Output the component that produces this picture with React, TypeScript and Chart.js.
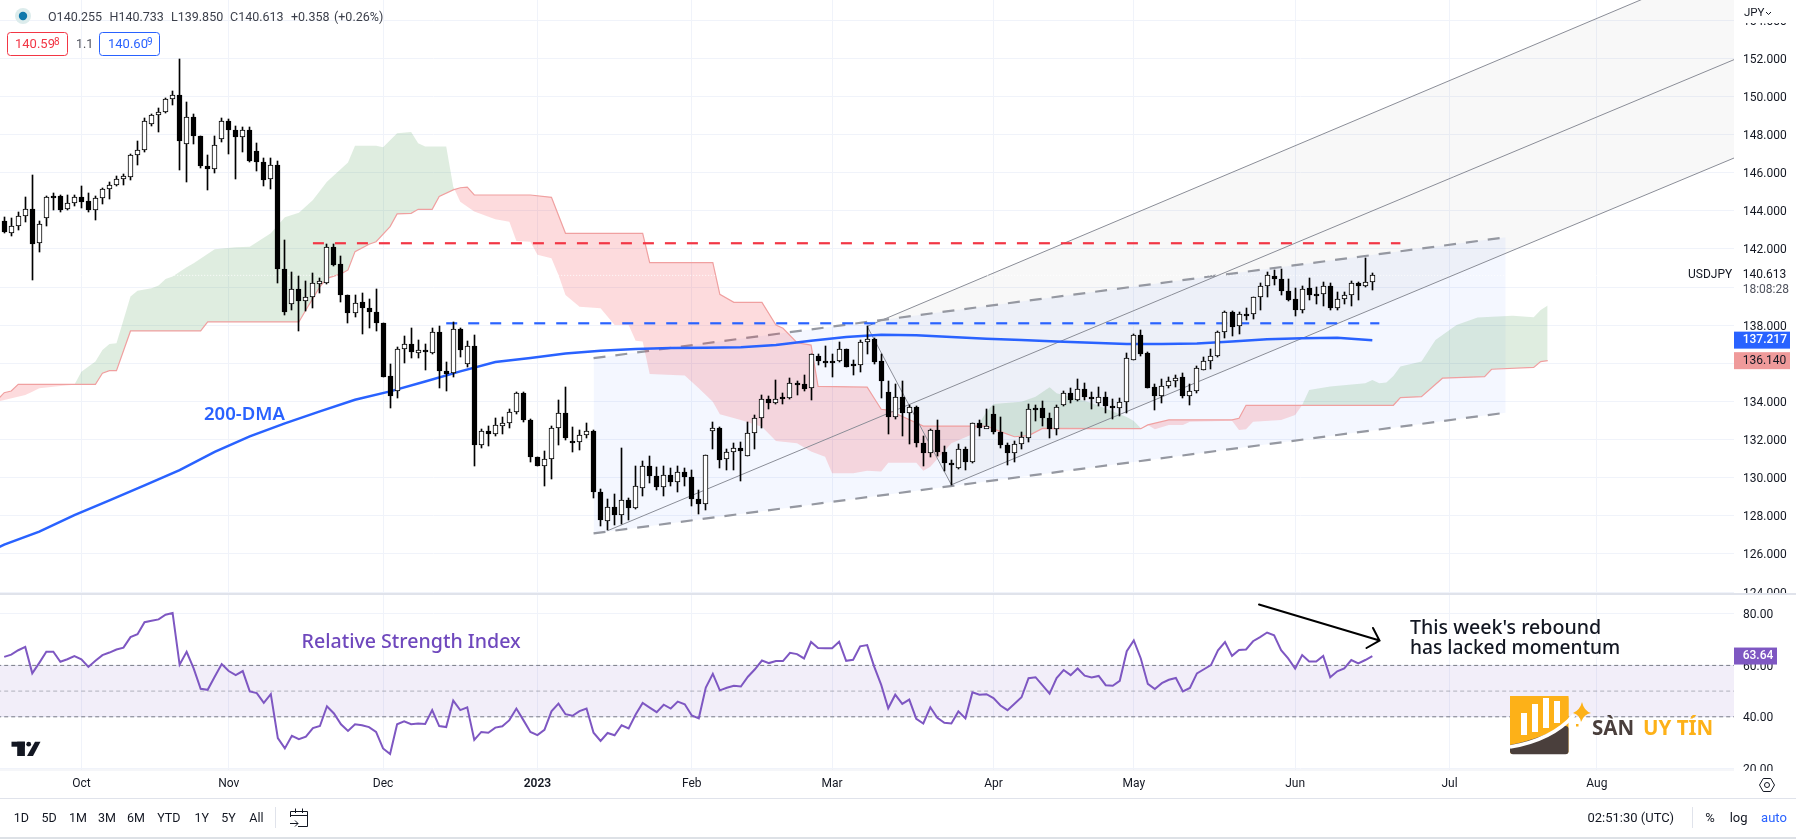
import React, { useEffect, useRef } from "react";
import { Chart, registerables } from "chart.js";

Chart.register(...registerables);

const opens = [143.46,142.83,143.18,143.71,144.09,142.31,143.60,144.77,144.77,144.09,144.40,144.72,144.51,144.06,144.65,145.14,145.33,145.66,145.80,146.92,147.17,148.53,149.02,149.21,149.86,150.10,147.48,148.92,147.94,146.36,146.22,147.76,148.70,148.25,147.85,148.23,147.13,146.55,145.65,146.40,140.94,139.11,139.90,139.25,139.48,140.21,140.24,142.10,141.22,139.60,138.64,139.21,138.90,138.69,138.11,135.33,134.53,136.75,137.01,136.57,136.70,136.54,137.64,135.61,135.49,137.80,135.96,136.92,131.70,132.45,132.29,132.76,132.87,133.43,134.44,133.03,131.09,130.60,130.98,132.61,133.39,131.92,131.85,132.22,132.47,129.27,127.71,128.46,128.04,128.85,128.39,129.46,130.61,130.09,129.51,130.12,129.77,130.30,130.04,128.88,128.60,132.43,132.61,130.98,131.35,131.56,131.12,132.34,133.13,134.13,133.90,134.21,134.16,134.97,134.91,134.70,136.38,136.14,136.14,136.12,136.75,135.94,135.91,137.12,137.29,136.14,134.49,133.18,134.23,133.38,133.71,131.82,131.28,132.50,131.35,130.79,130.49,131.50,130.81,132.87,132.61,133.34,132.40,131.71,131.28,131.75,132.08,133.67,133.66,133.13,132.58,133.83,134.46,134.08,134.67,134.25,133.94,134.25,133.78,133.66,133.97,136.19,137.50,136.52,134.74,134.29,134.83,135.09,135.26,134.29,134.53,135.67,136.14,136.36,137.66,138.70,137.95,138.60,138.58,139.49,140.06,140.60,140.45,139.82,139.35,138.79,139.96,139.64,139.63,140.08,138.89,139.38,139.57,140.22,140.05,140.255];
const closes = [142.87,143.18,143.71,144.09,142.27,143.29,144.72,144.70,144.06,144.40,144.72,144.47,144.06,144.65,145.14,145.35,145.66,145.82,146.92,147.17,148.70,149.02,149.21,149.86,150.10,147.64,148.92,147.90,146.33,146.22,147.45,148.70,148.22,147.85,148.23,146.62,146.54,145.63,146.40,140.94,138.71,139.90,139.25,139.48,140.21,140.31,142.10,141.17,139.56,138.62,139.16,138.88,138.67,138.09,135.30,134.27,136.75,136.99,136.57,136.71,136.57,137.64,135.58,135.46,137.80,136.68,136.91,131.70,132.45,132.27,132.76,132.87,133.44,134.44,133.03,131.09,130.60,130.98,132.61,133.39,132.06,131.85,132.24,132.43,129.23,127.80,128.46,128.03,128.83,128.39,129.55,130.61,130.07,129.49,130.14,129.76,130.30,130.02,128.88,128.60,131.19,132.59,130.95,131.35,131.54,131.38,132.34,133.13,134.13,133.90,134.11,134.16,134.97,134.90,134.67,136.49,136.10,136.10,136.12,136.73,135.79,135.91,137.12,137.26,136.08,135.05,133.17,134.23,133.38,133.69,131.82,131.28,132.50,131.33,130.75,130.74,131.50,130.81,132.85,132.59,132.71,132.38,131.70,131.28,131.77,132.13,133.60,133.60,133.11,132.56,133.73,134.46,134.08,134.67,134.25,134.15,134.25,133.76,133.66,133.99,136.29,137.50,136.49,134.71,134.29,134.83,135.09,135.25,134.29,134.57,135.77,136.14,136.40,137.66,138.70,137.90,138.60,138.56,139.49,140.06,140.64,140.41,139.78,139.30,138.79,139.91,139.56,139.59,140.06,138.88,139.38,139.57,140.22,140.05,140.25,140.613];
const highs = [143.67,143.62,143.92,144.72,145.89,143.46,144.79,144.93,144.84,144.82,144.84,145.28,144.93,144.79,145.19,145.49,145.84,145.94,146.99,147.66,148.86,149.09,149.40,149.91,150.30,151.96,149.72,149.09,147.94,146.94,147.90,148.86,148.81,148.43,148.39,148.39,147.55,146.76,146.76,146.61,142.48,140.80,140.59,140.30,140.73,140.47,142.25,142.25,141.64,139.60,139.58,139.69,139.37,139.90,138.11,135.96,136.85,137.45,137.85,137.24,137.03,137.85,137.97,136.05,138.15,137.83,137.17,137.48,132.57,132.73,133.13,133.18,133.60,134.49,134.48,133.08,131.09,131.38,132.73,134.09,134.76,132.66,132.48,132.87,132.52,129.41,128.90,129.16,131.56,128.94,130.63,130.86,131.15,130.56,130.60,130.49,130.60,130.49,130.42,129.34,131.19,132.92,132.66,131.52,131.82,131.87,132.90,133.31,134.34,134.27,135.14,134.44,135.23,135.05,135.39,136.50,136.47,136.92,136.50,137.12,136.75,136.19,137.20,137.94,137.33,136.50,135.05,134.91,135.05,133.81,133.74,132.17,132.57,133.04,131.64,130.95,131.75,131.61,132.87,133.01,133.60,133.78,133.18,131.82,131.94,132.38,133.85,133.81,134.02,133.39,133.83,134.55,134.72,135.16,134.99,134.50,134.74,134.51,134.11,134.20,136.56,137.55,137.76,136.61,134.90,135.16,135.30,135.40,135.51,134.90,135.86,136.35,136.73,137.69,138.74,138.74,138.70,138.91,139.49,140.22,140.78,140.92,140.97,140.45,139.96,140.05,140.50,140.01,140.29,140.24,139.75,139.75,140.32,140.29,141.55,140.733];
const lows = [142.83,142.66,142.97,143.39,140.35,141.82,143.22,144.06,143.92,144.06,144.23,144.16,143.92,143.53,144.37,144.61,145.28,145.35,145.63,146.42,147.11,148.43,148.15,149.11,149.56,146.15,145.49,147.52,146.26,145.10,146.01,147.59,146.99,145.68,147.10,146.57,146.10,145.31,145.17,140.24,138.51,138.81,137.68,138.72,138.90,139.69,140.17,141.12,139.20,138.11,138.41,137.53,137.88,137.68,135.26,133.64,134.18,136.01,136.26,136.26,135.63,136.50,134.69,134.53,135.28,136.33,135.79,130.60,131.54,131.64,132.17,132.31,132.62,133.36,132.90,130.81,130.60,129.55,129.95,131.70,131.99,131.33,131.43,132.10,128.92,127.48,127.24,127.54,127.59,127.80,128.36,129.06,129.72,129.37,129.06,129.55,129.23,129.55,128.53,128.11,128.32,131.52,130.49,130.39,130.39,129.81,131.12,131.52,132.59,133.62,133.88,133.88,134.13,134.35,134.53,134.09,135.93,135.79,135.28,136.05,135.79,135.40,135.56,136.50,135.94,134.16,132.31,133.08,132.20,131.75,131.59,130.60,131.09,131.12,130.33,129.63,130.46,130.42,130.79,132.20,132.59,132.29,131.56,130.65,130.81,131.52,131.87,132.99,132.73,132.06,132.25,133.76,133.90,134.01,134.10,133.59,133.76,133.40,133.07,133.24,133.38,136.17,136.38,134.69,133.55,133.90,134.71,134.76,134.18,133.82,134.43,135.65,135.68,136.35,137.32,137.46,137.52,138.25,138.30,138.82,139.49,140.13,139.59,139.26,138.46,138.65,139.30,139.12,139.03,138.82,138.79,139.09,139.03,139.30,139.98,139.85];
const rsiValues = [63.3,64.2,65.9,67.2,56.9,61.0,65.3,65.3,61.4,62.4,63.6,62.4,59.4,61.8,64.0,65.0,66.2,66.9,71.0,72.1,76.8,77.4,77.9,79.7,80.4,60.3,65.3,58.8,50.9,50.5,55.6,60.5,57.8,56.2,57.8,49.9,49.2,45.4,48.8,31.7,27.7,32.6,31.3,32.3,35.6,36.4,44.1,41.3,37.1,34.5,37.1,36.7,36.0,34.1,27.7,25.5,37.1,38.2,37.1,37.4,37.2,42.6,36.4,36.0,46.3,42.6,43.7,31.0,34.1,33.8,35.8,36.3,38.7,43.2,38.7,34.1,32.9,34.9,42.1,45.1,41.0,40.4,42.2,43.2,33.8,30.6,33.7,32.8,36.7,35.5,40.9,45.4,43.6,41.8,44.7,43.2,45.9,44.9,40.5,39.4,51.4,56.7,50.3,51.3,52.1,51.8,55.6,58.5,61.9,60.9,61.7,61.7,64.9,64.4,62.7,69.1,66.8,66.7,66.7,69.2,61.8,62.2,67.4,67.9,59.5,52.4,43.3,48.6,45.0,46.7,39.2,37.4,43.7,39.6,37.7,37.4,42.1,39.4,49.5,48.6,48.8,47.3,44.4,42.6,45.1,47.6,55.0,55.4,52.2,49.0,55.1,58.2,56.2,58.8,56.0,55.3,55.9,52.3,52.1,54.0,65.5,69.7,62.7,52.8,50.8,53.1,54.4,55.1,49.9,51.2,56.9,58.5,60.1,65.9,69.1,63.7,66.0,66.2,69.4,71.0,72.8,71.7,65.9,62.7,58.8,64.0,61.5,61.5,63.7,55.4,57.7,58.8,62.1,60.8,62.1,63.64];

const dmaBars = [-1,0,5,10,15,20,25,30,35,40,45,50,55,60,65,70,75,80,85,90,95,100,105,110,115,120,125,130,135,140,145,150,155,160,165,170,175,180,185,190,195];
const dmaValues = [126.31,126.49,127.17,128.04,128.81,129.60,130.40,131.35,132.17,132.85,133.48,134.09,134.53,135.05,135.58,136.07,136.28,136.52,136.66,136.75,136.80,136.82,136.84,136.96,137.19,137.38,137.50,137.47,137.38,137.29,137.22,137.15,137.08,137.01,137.01,137.04,137.15,137.27,137.32,137.34,137.217];

const spanABars = [-1,3,4,5,8,10,11,13,14,15,16,17,18,19,21,22,23,24,26,27,30,33,35,38,40,42,44,46,49,50,53,54,56,58,59,60,63,64,65,67,70,72,73,75,76,78,79,80,82,85,87,89,90,91,92,97,99,101,102,105,108,110,113,115,117,118,121,123,125,126,130,131,132,135,138,139,140,141,145,147,149,150,155,160,161,162,163,164,166,168,169,175,176,177,178,182,184,185,186,189,194,195,196,197,198,199,202,204,207,210,215,218,219,220];
const spanAValues = [133.99,134.34,134.51,134.69,134.81,134.88,135.56,136.09,136.70,137.02,137.05,138.28,139.50,139.81,139.94,140.08,140.43,140.55,141.04,141.25,141.99,142.09,142.12,142.82,143.66,143.90,144.57,145.52,146.53,147.42,147.42,147.34,148.07,148.14,147.55,147.37,147.37,145.27,144.48,143.96,143.56,143.43,142.42,142.38,141.69,141.51,140.64,139.59,138.97,138.89,138.01,138.01,137.19,137.14,135.44,135.36,134.69,133.99,133.33,133.03,132.68,131.93,131.81,131.37,131.10,130.23,130.23,130.37,130.32,130.79,130.79,130.37,130.58,131.81,132.28,132.86,133.46,133.87,133.99,134.25,134.75,134.43,133.92,133.18,132.98,132.59,132.77,132.54,132.77,132.77,132.94,132.99,132.50,132.54,132.94,133.03,133.29,133.82,134.60,134.78,134.95,135.13,134.95,134.99,135.34,135.83,136.09,137.23,138.01,138.40,138.49,138.42,138.80,139.03];
const spanBBars = [-1,0,1,2,13,14,15,16,18,28,29,42,43,45,46,48,49,50,52,53,55,56,58,59,61,62,64,65,66,67,75,78,80,91,92,101,102,104,108,110,111,113,115,116,123,124,125,126,131,140,142,144,146,148,162,163,166,175,176,177,198,199,202,205,211,212,218,219,220];
const spanBValues = [134.08,134.46,134.55,134.90,134.90,135.48,135.62,135.62,137.70,137.70,138.17,138.17,138.80,140.02,140.46,140.69,140.90,141.86,142.25,142.38,143.17,143.84,143.87,144.08,144.08,144.76,145.10,145.21,145.24,144.83,144.83,144.71,142.82,142.82,141.28,141.28,139.62,139.20,139.20,138.01,137.84,137.08,136.96,134.79,134.75,134.17,133.59,133.55,132.71,132.71,132.42,132.15,132.21,132.59,132.57,132.77,133.03,133.03,133.12,133.80,133.80,134.20,134.25,135.22,135.30,135.69,135.79,136.09,136.14];

const forkUpperBars = [123, 247];
const forkUpperValues = [137.94, 157.2];
const forkMiddleBars = [86, 247];
const forkMiddleValues = [127.22, 152.0];
const forkLowerBars = [123, 135, 247];
const forkLowerValues = [137.94, 129.63, 146.84];
const channelBars = [84, 214];
const channelTopValues = [136.27, 142.61];
const channelBottomValues = [127.08, 133.41];
const resistanceBars = [44, 199];
const resistanceValues = [142.3, 142.3];
const supportBars = [63, 196];
const supportValues = [138.1, 138.1];
const lastPrice = 140.613;
const cloudLastValue = 136.14;

const priceTicks = [124,126,128,130,132,134,136,138,140,142,144,146,148,150,152,154];
const hiddenPriceLabels = [140];
const rsiTicks = [20,40,60,80];
const monthBars = [11,32,54,76,98,118,141,161,184,206,227];
const monthLabels = ["Oct","Nov","Dec","2023","Feb","Mar","Apr","May","Jun","Jul","Aug"];
const rangeButtons = ["1D","5D","1M","3M","6M","YTD","1Y","5Y","All"];
const rangeCenters = [21.4,49,78,107,136,168.8,201.7,228.5,256.4];

const FONT = 'Roboto, "Noto Sans", sans-serif';
const NOTE = '"Noto Sans", "Open Sans", sans-serif';
const W = 1796, H = 839;

const pts = (xs: number[], ys: number[]) => xs.map((x, k) => ({ x, y: ys[k] }));
const line = (label: string, data: any[], opts: any) => ({
  type: "line", label, data, pointRadius: 0, borderWidth: 1, tension: 0, fill: false,
  xAxisID: "x", yAxisID: "y", ...opts,
});

const snapBars = {
  id: "snapBars",
  afterDatasetsUpdate(chart: any) {
    chart.data.datasets.forEach((ds: any, k: number) => {
      if (ds.type !== "bar") return;
      chart.getDatasetMeta(k).data.forEach((el: any, j: number) => {
        el.x = Math.floor(el.x) + 0.5;
        let a = Math.round(Math.min(el.y, el.base));
        let b = Math.round(Math.max(el.y, el.base));
        if (ds.label === "body") {
          const min = closes[j] >= opens[j] ? 3 : 2;
          if (b - a < min) b = a + min;
        }
        el.y = a; el.base = b;
      });
    });
  },
};

const chrome = {
  id: "chrome",
  afterDraw(chart: any) {
    const c = chart.ctx as CanvasRenderingContext2D;
    const y = chart.scales.y, r = chart.scales.yRsi;
    const txt = (s: string, x: number, yy: number, font: string, color: string, align: CanvasTextAlign = "left") => {
      c.font = font; c.fillStyle = color; c.textAlign = align; c.textBaseline = "middle"; c.fillText(s, x, yy);
    };
    const rect = (x: number, yy: number, w: number, h: number, col: string) => { c.fillStyle = col; c.fillRect(x, yy, w, h); };
    c.save();
    // axis clipping
    rect(1734, 0, 62, 23, "#fff");
    rect(1734, 594, 62, 8, "#fff");
    rect(1734, 771, 62, 8, "#fff");
    // pane borders
    rect(0, 593, W, 2, "#e0e3eb");
    rect(0, 769.5, 1734, 1, "#eceef3");
    rect(0, 798, W, 1, "#e0e3eb");
    rect(0, 837, W, 2, "#dde1e6");

    // legend
    c.beginPath(); c.arc(23, 16, 8, 0, 7); c.fillStyle = "#dcecec"; c.fill();
    c.beginPath(); c.arc(23, 16, 4.2, 0, 7); c.fillStyle = "#0f78ab"; c.fill();
    const lf = `12.5px ${FONT}`;
    [["O140.255",48],["H140.733",109.5],["L139.850",171],["C140.613",230],["+0.358",291],["(+0.26%)",334]].forEach(([s, x]: any) => txt(s, x, 17.5, lf, "#3b3f4a"));
    c.lineWidth = 1;
    c.strokeStyle = "#f23645"; c.beginPath(); c.roundRect(7.5, 32.5, 60, 23, 3); c.stroke();
    c.strokeStyle = "#2962ff"; c.beginPath(); c.roundRect(99.5, 32.5, 60, 23, 3); c.stroke();
    txt("140.59", 15, 45, `13px ${FONT}`, "#f23645"); txt("8", 54, 42, `10px ${FONT}`, "#f23645");
    txt("140.60", 108, 45, `13px ${FONT}`, "#2962ff"); txt("9", 147, 42, `10px ${FONT}`, "#2962ff");
    txt("1.1", 76, 44.5, `12.5px ${FONT}`, "#50535e");

    // axis extras
    txt("JPY", 1744, 13, `11.5px ${FONT}`, "#131722");
    c.strokeStyle = "#131722"; c.beginPath(); c.moveTo(1766, 12); c.lineTo(1768.5, 14.5); c.lineTo(1771, 12); c.stroke();
    const yl = y.getPixelForValue(lastPrice);
    txt("USDJPY", 1688, yl, `12px ${FONT}`, "#131722");
    txt("140.613", 1742.7, yl, `12px ${FONT}`, "#131722");
    txt("18:08:28", 1742.7, yl + 14.5, `12px ${FONT}`, "#50535e");
    const tag = (py: number, w: number, bg: string, s: string, col: string, weight = "500") => {
      rect(1734, py - 8.5, w, 17, bg);
      txt(s, 1742.7, py, `${weight} 12px ${FONT}`, col);
    };
    tag(y.getPixelForValue(dmaValues[dmaValues.length - 1]), 56, "#2962ff", "137.217", "#fff");
    tag(y.getPixelForValue(cloudLastValue), 56, "#ef9a9a", "136.140", "#131722", "400");
    tag(r.getPixelForValue(rsiValues[rsiValues.length - 1]), 43, "#7e57c2", "63.64", "#fff");

    // annotations
    txt("200-DMA", 204, 414.5, `600 18.5px ${NOTE}`, "#2962ff");
    txt("Relative Strength Index", 301.5, 642, `500 19.6px ${NOTE}`, "#6f48bd");
    txt("This week's rebound", 1410, 628, `500 19.6px ${NOTE}`, "#131722");
    txt("has lacked momentum", 1410, 649, `500 19.2px ${NOTE}`, "#131722");
    c.strokeStyle = "#000"; c.lineWidth = 2; c.lineCap = "round";
    c.beginPath(); c.moveTo(1259, 604.5); c.lineTo(1379.5, 640.5); c.moveTo(1373, 628); c.lineTo(1379.5, 640.5); c.lineTo(1366.5, 648); c.stroke();
    c.lineCap = "butt";

    // TradingView mark
    c.fillStyle = "#131722";
    c.fillRect(11.5, 741.7, 13.4, 5); c.fillRect(17.2, 741.7, 7.7, 14.3);
    c.beginPath(); c.arc(28.7, 744.2, 2.4, 0, 7); c.fill();
    c.beginPath(); c.moveTo(27, 756); c.lineTo(35, 741.7); c.lineTo(40.5, 741.7); c.lineTo(33, 756); c.closePath(); c.fill();

    // watermark logo
    c.fillStyle = "#fdb118"; c.beginPath(); c.roundRect(1510, 696, 58.5, 58, 3); c.fill();
    c.fillStyle = "#4a3f3c"; c.beginPath(); c.roundRect(1510, 726, 58.5, 28.3, 3); c.fill();
    c.fillStyle = "#fdb118"; c.beginPath(); c.moveTo(1510, 696); c.lineTo(1568.5, 696); c.lineTo(1568.5, 722); c.quadraticCurveTo(1545, 738, 1510, 745); c.closePath(); c.fill();
    c.strokeStyle = "#fff"; c.lineWidth = 3.5; c.beginPath(); c.moveTo(1510, 747); c.quadraticCurveTo(1552, 740, 1574, 715); c.stroke();
    c.fillStyle = "#fff";
    [[1521,735,6,-22],[1532,732,6,-28],[1543,728,6,-30],[1554,723,6,-22]].forEach(([x, b, w, h]) => c.fillRect(x, b, w, h));
    c.fillStyle = "#fdb118";
    c.beginPath(); c.moveTo(1582, 702); c.quadraticCurveTo(1584, 711, 1591, 713); c.quadraticCurveTo(1584, 714, 1581, 722); c.quadraticCurveTo(1580, 715, 1573, 713); c.quadraticCurveTo(1580, 710, 1582, 702); c.fill();
    c.fillRect(1576, 724, 2.5, 2.5);
    txt("SÀN", 1592, 729, `700 20.5px ${NOTE}`, "#4a3f3c");
    txt("UY TÍN", 1643, 729, `700 20.5px ${NOTE}`, "#fdb118");

    // toolbar
    rangeButtons.forEach((s, k) => txt(s, rangeCenters[k], 819, `12.5px ${FONT}`, "#131722", "center"));
    rect(275, 807, 1, 21, "#e0e3eb");
    c.strokeStyle = "#131722"; c.lineWidth = 1;
    c.beginPath();
    c.moveTo(290.5, 817); c.lineTo(290.5, 811.5); c.lineTo(307.5, 811.5); c.lineTo(307.5, 826.5); c.lineTo(298, 826.5);
    c.moveTo(290.5, 815.5); c.lineTo(307.5, 815.5);
    c.moveTo(295.5, 808.5); c.lineTo(295.5, 813); c.moveTo(302.5, 808.5); c.lineTo(302.5, 813);
    c.moveTo(290, 823.5); c.lineTo(298, 823.5); c.moveTo(295, 820.5); c.lineTo(298, 823.5); c.lineTo(295, 826.5);
    c.stroke();
    txt("02:51:30 (UTC)", 1587.5, 819, `13px ${FONT}`, "#131722");
    rect(1692, 807, 1, 21, "#e0e3eb");
    txt("%", 1710, 819, `13px ${FONT}`, "#131722", "center");
    txt("log", 1738.6, 819, `13px ${FONT}`, "#131722", "center");
    txt("auto", 1774, 819, `13px ${FONT}`, "#2962ff", "center");
    // settings
    c.beginPath();
    for (let k = 0; k < 6; k++) {
      const a = Math.PI / 3 * k;
      const px = 1767 + 7.5 * Math.cos(a), py = 785 + 7.5 * Math.sin(a);
      if (k === 0) c.moveTo(px, py); else c.lineTo(px, py);
    }
    c.closePath(); c.stroke();
    c.beginPath(); c.arc(1767, 785, 2.5, 0, 7); c.stroke();
    c.restore();
  },
};

export default function App() {
  const ref = useRef<HTMLCanvasElement>(null);
  useEffect(() => {
    document.body.style.margin = "0";
    document.body.style.background = "#fff";
    const bars = opens.map((_, k) => k);
    const grid = { color: "#f0f3fa", drawTicks: false, lineWidth: 1 };
    const tickFont = { family: FONT, size: 12 };
    const noPad = (s: any) => { s.paddingTop = 0; s.paddingBottom = 0; s.paddingLeft = 0; s.paddingRight = 0; };
    const full = [-1, 247];
    const forkFill = "rgba(120,120,120,0.055)";
    const channelFill = "rgba(41,98,255,0.05)";
    const bandFill = "rgba(126,87,194,0.1)";
    const chart = new Chart(ref.current as HTMLCanvasElement, {
      type: "line",
      data: {
        datasets: [
          line("fork upper", pts(forkUpperBars, forkUpperValues), { borderColor: "#8a8d97", order: 30, fill: { target: "+1", above: forkFill, below: forkFill } }),
          line("fork lower", pts(forkLowerBars, forkLowerValues), { borderColor: "#8a8d97", order: 12 }),
          line("fork middle", pts(forkMiddleBars, forkMiddleValues), { borderColor: "#8a8d97", order: 12 }),
          line("channel top", pts(channelBars, channelTopValues), { borderColor: "#9598a1", borderWidth: 2.2, borderDash: [12, 10], order: 29, fill: { target: "+1", above: channelFill, below: channelFill } }),
          line("channel bottom", pts(channelBars, channelBottomValues), { borderColor: "#9598a1", borderWidth: 2.2, borderDash: [12, 10], order: 11 }),
          line("span A", pts(spanABars, spanAValues), { borderWidth: 0, borderColor: "rgba(0,0,0,0)", order: 28, fill: { target: "+1", above: "rgba(56,142,60,0.16)", below: "rgba(242,54,69,0.18)" } }),
          line("span B", pts(spanBBars, spanBValues), { borderColor: "#f0a0a0", borderWidth: 1.2, order: 27 }),
          line("last price", pts(full, [lastPrice, lastPrice]), { borderColor: "rgba(255,255,255,0.9)", borderDash: [1, 2], order: 26 }),
          line("resistance", pts(resistanceBars, resistanceValues), { borderColor: "#f23645", borderWidth: 2.2, borderDash: [11, 11], order: 10 }),
          line("support", pts(supportBars, supportValues), { borderColor: "#2962ff", borderWidth: 2.2, borderDash: [11, 11], order: 10 }),
          line("200-DMA", pts(dmaBars, dmaValues), { borderColor: "#2962ff", borderWidth: 2.5, order: 9 }),
          { type: "bar", label: "wick", data: bars.map((k) => ({ x: k, y: [lows[k], highs[k]] })), backgroundColor: "#000", barThickness: 1, grouped: false, order: 3, xAxisID: "x", yAxisID: "y" },
          {
            type: "bar", label: "body", data: bars.map((k) => ({ x: k, y: [opens[k], closes[k]] })),
            backgroundColor: (ctx: any) => (closes[ctx.dataIndex] >= opens[ctx.dataIndex] ? "#fff" : "#000"),
            borderColor: "#000", borderWidth: 1, borderSkipped: false, barThickness: 5, grouped: false, order: 2, xAxisID: "x", yAxisID: "y",
          },
          line("band upper", pts(full, [60, 60]), { yAxisID: "yRsi", borderColor: "#787b86", borderDash: [4, 3], order: 8, fill: { target: "+1", above: bandFill, below: bandFill } }),
          line("band lower", pts(full, [40, 40]), { yAxisID: "yRsi", borderColor: "#787b86", borderDash: [4, 3], order: 7 }),
          line("band mid", pts(full, [50, 50]), { yAxisID: "yRsi", borderColor: "rgba(120,123,134,0.55)", borderDash: [4, 3], order: 6 }),
          line("RSI", pts(bars, rsiValues), { yAxisID: "yRsi", borderColor: "#7e57c2", borderWidth: 2, order: 1 }),
        ] as any,
      },
      options: {
        animation: false, responsive: false, devicePixelRatio: 1, events: [],
        layout: { padding: 0 },
        plugins: { legend: { display: false }, tooltip: { enabled: false } },
        scales: {
          x: {
            type: "linear", position: "bottom", min: -0.6, max: 246.55, offset: false,
            grid: { ...grid, offset: false }, border: { display: false },
            afterBuildTicks: (s: any) => { s.ticks = monthBars.map((value) => ({ value })); },
            afterFit: (s: any) => { s.height = H - 770; noPad(s); },
            ticks: {
              autoSkip: false, maxRotation: 0, padding: 7, color: "#131722",
              callback: (_: any, k: number) => monthLabels[k],
              font: (ctx: any) => ({ ...tickFont, weight: monthLabels[ctx.index] === "2023" ? "600" : "400" }),
            },
          },
          y: {
            type: "linear", position: "right", stack: "panes", stackWeight: 594, weight: 0, min: 123.9, max: 155.06,
            grid, border: { display: false },
            afterBuildTicks: (s: any) => { s.ticks = priceTicks.map((value) => ({ value })); },
            afterFit: (s: any) => { s.width = W - 1734; noPad(s); },
            ticks: {
              autoSkip: false, padding: 9, labelOffset: 1.5, color: "#131722", font: tickFont,
              callback: (v: any) => (hiddenPriceLabels.includes(Number(v)) ? "" : Number(v).toFixed(3)),
            },
          },
          yRsi: {
            type: "linear", position: "right", stack: "panes", stackWeight: 176, weight: 1, min: 19.3, max: 87.78,
            grid, border: { display: false },
            afterBuildTicks: (s: any) => { s.ticks = rsiTicks.map((value) => ({ value })); },
            afterFit: (s: any) => { s.width = W - 1734; noPad(s); },
            ticks: { autoSkip: false, padding: 9, labelOffset: 1.5, color: "#131722", font: tickFont, callback: (v: any) => Number(v).toFixed(2) },
          },
        },
      } as any,
      plugins: [snapBars, chrome],
    });
    return () => chart.destroy();
  }, []);
  return (
    <div style={{ position: "absolute", left: 0, top: 0, width: W, height: H, background: "#fff" }}>
      <canvas ref={ref} width={W} height={H} style={{ display: "block", width: W, height: H }} />
    </div>
  );
}
